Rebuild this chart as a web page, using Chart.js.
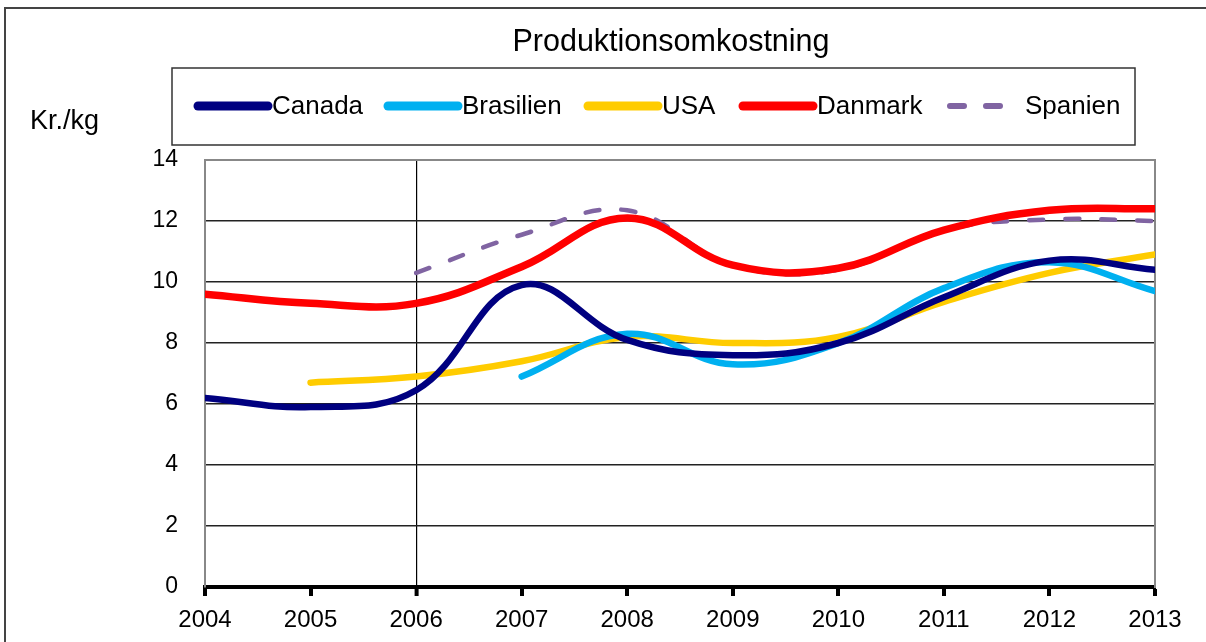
<!DOCTYPE html>
<html>
<head>
<meta charset="utf-8">
<script src="https://cdn.jsdelivr.net/npm/chart.js@4/dist/chart.umd.min.js"></script>
<style>
  html, body { margin: 0; padding: 0; background: #fff; }
  #wrap { position: relative; width: 1206px; height: 642px; }
</style>
</head>
<body>
<div id="wrap"><canvas id="myChart" width="1206" height="642"></canvas></div>
<script>
var Aar = [2004, 2005, 2006, 2007, 2008, 2009, 2010, 2011, 2012, 2013]

var Canada    = [6.2, 5.9, 6.45, 9.9, 8.1, 7.6, 8.0, 9.5, 10.7, 10.4]
var Brasilien = [null, null, null, 6.9, 8.3, 7.3, 8.0, 9.8, 10.65, 9.7]
var USA       = [null, 6.7, 6.9, 7.4, 8.2, 8.0, 8.2, 9.35, 10.3, 10.9]
var Danmark   = [9.6, 9.3, 9.3, 10.5, 12.1, 10.55, 10.45, 11.7, 12.35, 12.4]
var Spanien   = [null, null, 10.3, 11.55, 12.35, 10.55, 10.4, 11.7, 12.05, 12.0]

var YTicks = [0, 2, 4, 6, 8, 10, 12, 14]

var Titel = 'Produktionsomkostning'
var Enhed = 'Kr./kg'

var FONT = '"Liberation Sans", Arial, sans-serif'

function punkter(vaerdier) {
    var ud = []
    for (var i = 0; i < Aar.length; i++) {
        if (vaerdier[i] !== null) ud.push({ x: Aar[i], y: vaerdier[i] })
    }
    return ud
}

// titel, enhed, legende-boks og ramme
var pynt = {
    id: 'pynt',
    afterDraw: function (chart) {
        var c = chart.ctx
        c.save()
        // ramme om hele figuren
        c.strokeStyle = '#444'
        c.lineWidth = 2
        c.beginPath()
        c.moveTo(5, 642)
        c.lineTo(5, 8)
        c.lineTo(1206, 8)
        c.stroke()

        c.fillStyle = '#000'
        c.textBaseline = 'middle'
        c.textAlign = 'center'
        c.font = '30.5px ' + FONT
        c.fillText(Titel, 671, 43)

        c.textAlign = 'left'
        c.font = '27px ' + FONT
        c.fillText(Enhed, 30, 122)

        // legende
        c.strokeStyle = '#333'
        c.lineWidth = 1.5
        c.strokeRect(172, 68, 963, 77)
        var pos = [
            { x1: 198, x2: 268, tx: 272 },
            { x1: 388, x2: 458, tx: 462 },
            { x1: 588, x2: 658, tx: 662 },
            { x1: 743, x2: 813, tx: 817 },
            { x1: 950, x2: 1000, tx: 1025 }
        ]
        var ds = chart.data.datasets
        c.font = '26px ' + FONT
        for (var i = 0; i < ds.length; i++) {
            var p = pos[i]
            c.strokeStyle = ds[i].borderColor
            c.lineWidth = ds[i].legendeBredde
            c.lineCap = 'round'
            c.setLineDash(ds[i].legendeDash || [])
            c.beginPath()
            c.moveTo(p.x1, 106)
            c.lineTo(p.x2, 106)
            c.stroke()
            c.setLineDash([])
            c.fillStyle = '#000'
            c.fillText(ds[i].label, p.tx, 107)
        }
        c.restore()
    }
}

var ctx = document.getElementById('myChart')
var chartData = {
    type: 'line',
    data: {
        datasets: [{
            label: 'Canada',
            data: punkter(Canada),
            borderColor: '#000080',
            borderWidth: 6.5,
            legendeBredde: 9
        },
        {
            label: 'Brasilien',
            data: punkter(Brasilien),
            borderColor: '#00B0F0',
            borderWidth: 6.5,
            legendeBredde: 9
        },
        {
            label: 'USA',
            data: punkter(USA),
            borderColor: '#FFCC00',
            borderWidth: 6.5,
            legendeBredde: 9
        },
        {
            label: 'Danmark',
            data: punkter(Danmark),
            borderColor: '#FF0000',
            borderWidth: 7.5,
            legendeBredde: 9
        },
        {
            label: 'Spanien',
            data: punkter(Spanien),
            borderColor: '#8064A2',
            borderWidth: 4.5,
            borderDash: [14, 22],
            legendeDash: [14, 22],
            legendeBredde: 6
        }]
    },
    options: {
        responsive: false,
        animation: false,
        layout: { padding: { left: 0, right: 51, top: 160, bottom: 0 } },
        elements: {
            point: { radius: 0 },
            line: { tension: 0.4, fill: false, borderCapStyle: 'round', borderJoinStyle: 'round' }
        },
        plugins: {
            legend: { display: false },
            title: { display: false },
            tooltip: { enabled: false }
        },
        scales: {
            x: {
                type: 'linear',
                min: 2004,
                max: 2013,
                afterFit: function (s) { s.height = 55 },
                ticks: {
                    stepSize: 1,
                    padding: 10,
                    color: '#000',
                    font: { family: FONT, size: 24 },
                    callback: function (v) { return String(v) }
                },
                grid: {
                    color: function (c) {
                        var v = c.tick && c.tick.value
                        if (v === 2006) return '#000'
                        if (v === 2004 || v === 2013) return '#888'
                        return 'rgba(0,0,0,0)'
                    },
                    lineWidth: function (c) {
                        var v = c.tick && c.tick.value
                        return v === 2006 ? 1.2 : 2
                    },
                    tickColor: '#000',
                    tickWidth: 4,
                    tickLength: 9
                },
                border: { color: '#000', width: 4 }
            },
            y: {
                min: 0,
                max: 14,
                afterFit: function (s) { s.width = 205 },
                afterBuildTicks: function (s) {
                    s.ticks = YTicks.map(function (v) { return { value: v } })
                },
                ticks: {
                    padding: 27,
                    color: '#000',
                    font: { family: FONT, size: 23 }
                },
                grid: {
                    drawTicks: false,
                    color: function (c) {
                        var v = c.tick && c.tick.value
                        if (v === 14) return '#888'
                        return '#222'
                    },
                    lineWidth: function (c) {
                        return c.tick && c.tick.value === 14 ? 2 : 1.5
                    }
                },
                border: { color: '#888', width: 2 }
            },
            y2: {
                position: 'right',
                min: 0,
                max: 14,
                afterFit: function (s) { s.width = 0 },
                ticks: { display: false },
                grid: { display: false, drawTicks: false },
                border: { color: '#888', width: 2 }
            }
        }
    },
    plugins: [pynt]
}
var myChart = new Chart(ctx, chartData)
</script>
</body>
</html>
